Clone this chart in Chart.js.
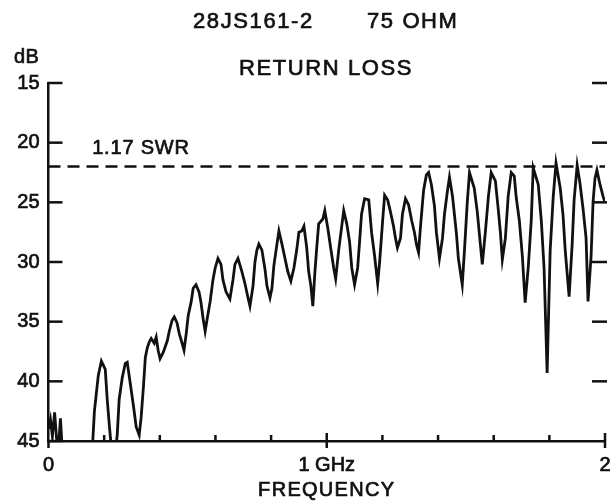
<!DOCTYPE html>
<html>
<head>
<meta charset="utf-8">
<script src="https://cdn.jsdelivr.net/npm/chart.js@4"></script>
<style>
  html, body { margin: 0; padding: 0; background: #fff; }
</style>
</head>
<body>
<canvas id="rlChart" width="613" height="502"></canvas>
<script>
// ---- data ----
const freqGHz = [
  0, 0.007, 0.014, 0.022, 0.029, 0.036, 0.043, 0.050, 0.065, 0.100,
  0.136, 0.158, 0.165, 0.172, 0.179, 0.190, 0.204, 0.211, 0.219, 0.226,
  0.237, 0.247, 0.254, 0.265, 0.276, 0.283, 0.294, 0.305, 0.315, 0.326,
  0.333, 0.341, 0.348, 0.355, 0.362, 0.369, 0.380, 0.387, 0.394, 0.401,
  0.412, 0.427, 0.434, 0.444, 0.452, 0.462, 0.470, 0.480, 0.487, 0.495,
  0.502, 0.513, 0.520, 0.530, 0.541, 0.548, 0.556, 0.563, 0.570, 0.581,
  0.591, 0.599, 0.609, 0.620, 0.627, 0.638, 0.652, 0.663, 0.670, 0.681,
  0.695, 0.706, 0.717, 0.724, 0.735, 0.742, 0.749, 0.756, 0.767, 0.778,
  0.785, 0.796, 0.803, 0.810, 0.821, 0.828, 0.839, 0.849, 0.860, 0.871,
  0.882, 0.892, 0.900, 0.910, 0.918, 0.928, 0.935, 0.943, 0.950, 0.957,
  0.964, 0.971, 0.986, 0.993, 1.004, 1.014, 1.025, 1.032, 1.043, 1.050,
  1.061, 1.072, 1.082, 1.090, 1.100, 1.111, 1.118, 1.125, 1.136, 1.151,
  1.161, 1.172, 1.183, 1.190, 1.201, 1.208, 1.219, 1.229, 1.240, 1.247,
  1.254, 1.265, 1.272, 1.283, 1.294, 1.305, 1.315, 1.323, 1.330, 1.337,
  1.348, 1.358, 1.366, 1.376, 1.387, 1.394, 1.405, 1.416, 1.423, 1.434,
  1.441, 1.452, 1.466, 1.473, 1.487, 1.495, 1.505, 1.513, 1.530, 1.541,
  1.552, 1.559, 1.570, 1.581, 1.591, 1.606, 1.616, 1.624, 1.631, 1.642,
  1.652, 1.663, 1.674, 1.681, 1.692, 1.703, 1.713, 1.724, 1.735, 1.742,
  1.760, 1.771, 1.781, 1.792, 1.803, 1.814, 1.824, 1.839, 1.849, 1.857,
  1.871, 1.882, 1.889, 1.900, 1.910, 1.921, 1.932, 1.939, 1.950, 1.957,
  1.964, 1.971, 1.982, 1.993, 2.000
];
// values past 45 dB run off the bottom of the plot (pen off scale)
const returnLossDb = [
  44.0, 43.2, 44.6, 42.6, 44.8, 45.5, 43.1, 46, 47, 47,
  47, 45.5, 42.5, 41.0, 39.5, 38.3, 39.0, 41.5, 43.8, 45.6,
  46.5, 44.5, 41.5, 39.7, 38.5, 38.4, 40.2, 42.0, 43.8, 44.5,
  43.0, 40.5, 38.0, 37.2, 36.7, 36.4, 36.8, 36.3, 37.4, 38.1,
  37.6, 36.6, 35.8, 34.9, 34.6, 35.1, 36.0, 36.8, 37.4, 36.0,
  34.5, 33.3, 32.2, 31.9, 32.5, 33.4, 34.8, 35.8, 34.8, 33.3,
  31.5, 30.5, 29.7, 30.2, 31.5, 32.5, 33.1, 31.5, 30.2, 29.7,
  30.8, 31.8, 33.0, 33.7, 32.0, 30.0, 29.0, 28.5, 29.0, 30.6,
  32.0, 33.0, 32.2, 30.3, 28.5, 27.4, 28.5, 29.6, 30.8, 31.6,
  30.5, 29.0, 27.5, 27.4, 27.0, 28.8, 30.8, 32.0, 33.7, 31.0,
  28.8, 26.8, 26.4, 25.7, 27.2, 28.8, 30.5, 31.4, 29.0, 27.7,
  25.7, 26.8, 28.3, 30.5, 31.9, 30.5, 28.3, 26.0, 24.7, 24.8,
  27.5, 29.5, 31.8, 30.0, 26.5, 24.4, 24.8, 25.8, 27.0, 28.0,
  28.8, 28.0, 26.0, 24.7, 25.2, 26.5, 27.5, 28.6, 29.2, 27.0,
  24.0, 22.7, 22.5, 23.5, 25.3, 27.5, 29.7, 28.0, 26.0, 24.0,
  22.9, 24.5, 27.6, 29.7, 31.9, 29.0, 25.0, 22.5, 23.8, 25.8,
  28.5, 30.2, 27.5, 24.5, 22.5, 23.2, 25.5, 27.5, 29.8, 28.0,
  24.5, 22.5, 22.8, 24.6, 26.5, 29.5, 33.4, 30.5, 26.5, 22.1,
  23.5, 26.5, 30.5, 39.3, 29.0, 24.5, 21.7, 23.8, 26.0, 29.0,
  32.9, 28.5, 24.8, 21.9, 23.4, 25.5, 28.0, 33.3, 29.5, 25.0,
  23.0, 22.3, 23.5, 24.5, 25.0
];
const swrLimitDb = 22;            // 1.17 SWR
const swrSpanGHz = [0, 2];
const yTickValues = [15, 20, 25, 30, 35, 40, 45];
const xLabelValues = [0, 1, 2];
const xLabelText = ['0', '1 GHz', '2'];
const xMinorValues = [0.2, 0.4, 0.6, 0.8, 1.2, 1.4, 1.6, 1.8];

const ink = '#111';
const fontFamily = '"Liberation Sans", Arial, Helvetica, sans-serif';

// ============================================
// extra marks: inner ticks, headings, labels
// ============================================
const chartDecor = {
  id: 'chartDecor',
  afterDraw(chart) {
    const { ctx } = chart;
    const x = chart.scales.x;
    const y = chart.scales.y;
    const seg = (x1, y1, x2, y2) => {
      ctx.beginPath();
      ctx.moveTo(x1, y1);
      ctx.lineTo(x2, y2);
      ctx.stroke();
    };
    const label = (txt, px, py) => {
      ctx.fillText(txt, px, py);
      ctx.strokeText(txt, px, py);
    };
    ctx.save();
    ctx.strokeStyle = ink;
    ctx.lineWidth = 2.5;
    ctx.lineCap = 'butt';

    // y ticks: inward on the left, short stubs on the right
    yTickValues.forEach(v => {
      const py = y.getPixelForValue(v);
      seg(x.left - 1, py, x.left + 14, py);
      if (v < 45) seg(x.right - 13, py, x.right + 2, py);
    });

    // x ticks
    xMinorValues.forEach(v => {
      const px = x.getPixelForValue(v);
      seg(px, y.bottom, px, y.bottom - 6);
    });
    xLabelValues.forEach(v => {
      const px = x.getPixelForValue(v);
      seg(px, y.bottom - (v === 0 ? 0 : 8), px, y.bottom + 7);
    });

    // text (a thin outline thickens the strokes like the printed original)
    ctx.fillStyle = ink;
    ctx.lineWidth = 0.7;
    ctx.lineJoin = 'round';
    ctx.textBaseline = 'alphabetic';
    ctx.textAlign = 'left';
    ctx.letterSpacing = '1.6px';
    ctx.font = '22px ' + fontFamily;
    label('28JS161-2', 193, 28);
    label('75 OHM', 367, 28);
    label('RETURN LOSS', 239, 75);

    ctx.letterSpacing = '0.5px';
    ctx.font = '20px ' + fontFamily;
    label('dB', 14, 63);

    ctx.letterSpacing = '0.8px';
    label('1.17 SWR', x.getPixelForValue(0.157), y.getPixelForValue(swrLimitDb) - 13);

    ctx.letterSpacing = '1.3px';
    ctx.textAlign = 'center';
    label('FREQUENCY', x.getPixelForValue(1), 496);
    ctx.restore();
  }
};

const trace = freqGHz.map((f, i) => ({ x: f, y: returnLossDb[i] }));
const swrLine = swrSpanGHz.map(f => ({ x: f, y: swrLimitDb }));

new Chart(document.getElementById('rlChart'), {
  type: 'line',
  data: {
    datasets: [
      {
        label: 'Return loss',
        data: trace,
        borderColor: ink,
        borderWidth: 2.8,
        pointRadius: 0,
        tension: 0,
        fill: false
      },
      {
        label: '1.17 SWR',
        data: swrLine,
        borderColor: ink,
        borderWidth: 2.5,
        borderDash: [12, 7],
        pointRadius: 0,
        fill: false
      }
    ]
  },
  options: {
    responsive: false,
    animation: false,
    layout: { padding: { left: 0, right: 8, top: 83, bottom: 0 } },
    plugins: {
      legend: { display: false },
      tooltip: { enabled: false }
    },
    scales: {
      x: {
        type: 'linear',
        min: 0,
        max: 2,
        afterFit: s => {
          s.height = 61;
          s.paddingLeft = 0;
          s.paddingRight = 0;
        },
        afterBuildTicks: s => { s.ticks = xLabelValues.map(v => ({ value: v })); },
        ticks: {
          color: ink,
          font: { family: fontFamily, size: 20 },
          textStrokeColor: ink,
          textStrokeWidth: 0.7,
          padding: 12,
          maxRotation: 0,
          autoSkip: false,
          callback: v => xLabelText[xLabelValues.indexOf(v)]
        },
        grid: { display: true, drawOnChartArea: false, drawTicks: false },
        border: { display: true, color: ink, width: 2.5 }
      },
      y: {
        type: 'linear',
        reverse: true,
        min: 15,
        max: 45,
        afterFit: s => {
          s.width = 48.5;
          s.paddingTop = 0;
          s.paddingBottom = 0;
        },
        afterBuildTicks: s => { s.ticks = yTickValues.map(v => ({ value: v })); },
        ticks: {
          color: ink,
          font: { family: fontFamily, size: 20 },
          textStrokeColor: ink,
          textStrokeWidth: 0.7,
          padding: 9
        },
        grid: { display: true, drawOnChartArea: false, drawTicks: false },
        border: { display: true, color: ink, width: 2.5 }
      }
    }
  },
  plugins: [chartDecor]
});
</script>
</body>
</html>
